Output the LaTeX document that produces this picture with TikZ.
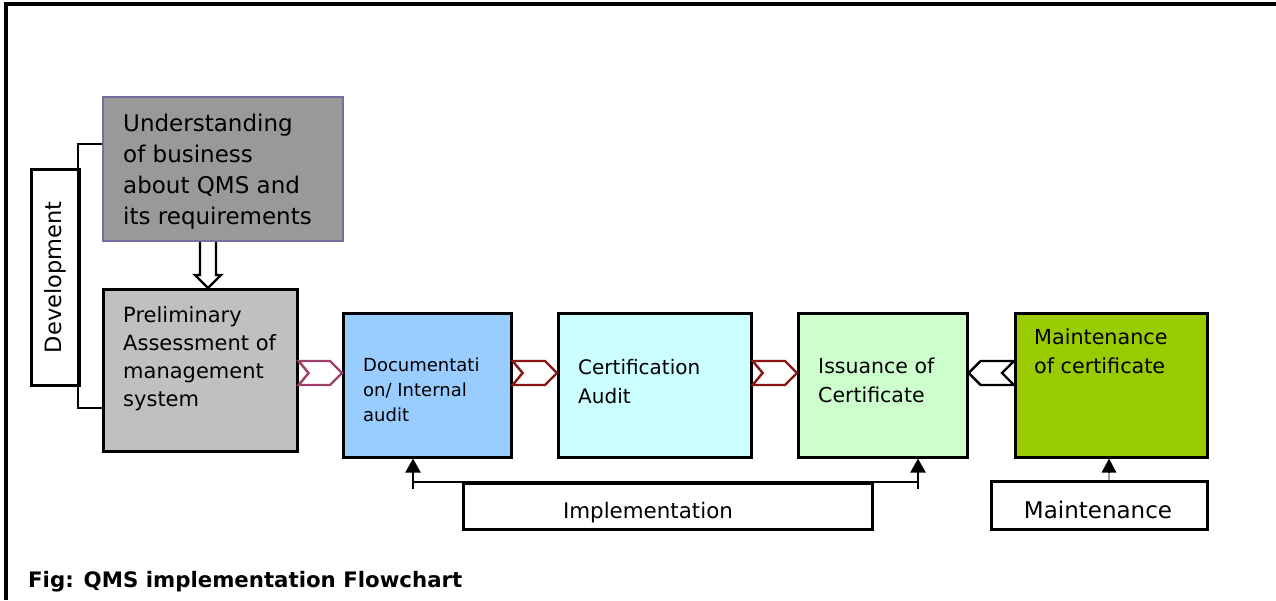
\documentclass[tikz,border=0pt]{standalone}
\usepackage{fontspec}
\setmainfont{DejaVu Sans}
\usetikzlibrary{arrows.meta,calc}
\definecolor{undfill}{HTML}{999999}
\definecolor{undline}{HTML}{7070A0}
\definecolor{prefill}{HTML}{C0C0C0}
\definecolor{docfill}{HTML}{99CCFF}
\definecolor{certfill}{HTML}{CCFFFF}
\definecolor{issfill}{HTML}{CCFFCC}
\definecolor{mntfill}{HTML}{99CC00}
\definecolor{chevpurple}{HTML}{A0406A}
\definecolor{chevred}{HTML}{8B1414}
\definecolor{lightline}{HTML}{A0A0A0}
\newcommand{\chevR}[3]{%
  \draw[chevline,draw=#3] ($(#1.east|-cy)+(0,-12)$) -- ($(#2.west|-cy)+(-12,-12)$) -- (#2.west|-cy)
    -- ($(#2.west|-cy)+(-12,12)$) -- ($(#1.east|-cy)+(0,12)$) -- ($(#1.east|-cy)+(10,0)$) -- cycle;}
\newcommand{\chevL}[3]{%
  \draw[chevline,draw=#3] ($(#1.west|-cy)+(0,-12)$) -- ($(#2.east|-cy)+(12,-12)$) -- (#2.east|-cy)
    -- ($(#2.east|-cy)+(12,12)$) -- ($(#1.west|-cy)+(0,12)$) -- ($(#1.west|-cy)+(-12,0)$) -- cycle;}
\begin{document}
\begin{tikzpicture}[x=1pt,y=-1pt,
  blk/.style={draw=black, line width=2.6pt, inner sep=0pt, anchor=north west},
  txt/.style={anchor=north west, inner sep=0pt, align=left},
  chevline/.style={line width=2.4pt, fill=white, line join=miter},
  uparr/.style={line width=2.4pt, -{Triangle[width=15pt,length=14pt]}},
]
\useasboundingbox (0,0) rectangle (1276,600);
\fill[white] (0,0) rectangle (1276,600);
% frame
\draw[line width=3.2pt] (6,600) -- (6,4) -- (1276,4);

% boxes
\node[blk, draw=undline, line width=2pt, fill=undfill, minimum width=240pt, minimum height=144pt] (und) at (102,96) {};
\node[blk, fill=prefill, minimum width=194pt, minimum height=162pt] (pre) at (102,288) {};
\node[blk, fill=docfill, minimum width=168pt, minimum height=144pt] (doc) at (342,312) {};
\node[blk, fill=certfill, minimum width=193pt, minimum height=144pt] (cert) at (557,312) {};
\node[blk, fill=issfill, minimum width=169pt, minimum height=144pt] (iss) at (797,312) {};
\node[blk, fill=mntfill, minimum width=192pt, minimum height=144pt] (maint) at (1014,312) {};
\node[blk, fill=white, minimum width=48pt, minimum height=216pt] (devbox) at (30,168) {};
\node[blk, fill=white, minimum width=216pt, minimum height=48pt] (mnt) at (990,480) {};

% texts
\node[txt, font=\fontsize{23}{31}\selectfont] (undt) at (123,114) {Understanding\\of business\\about QMS and\\its requirements};
\node[txt, font=\fontsize{21}{28}\selectfont] (pret) at (123,306) {Preliminary\\Assessment of\\management\\system};
\node[txt, font=\fontsize{18}{25}\selectfont] (doct) at (363,358) {Documentati\\on/ Internal\\audit};
\node[txt, font=\fontsize{20}{29}\selectfont] (certt) at (578,359) {Certification\\Audit};
\node[txt, font=\fontsize{20.5}{29}\selectfont] (isst) at (818,358) {Issuance of\\Certificate};
\node[txt, font=\fontsize{20.7}{29}\selectfont] (maintt) at (1034,329) {Maintenance\\of certificate};
\node[rotate=90, inner sep=0pt, font=\fontsize{22.5}{22.5}\selectfont] (dev) at (devbox.center) {Development};

% development bracket
\coordinate (b1) at (78,144);
\coordinate (b2) at (78,408);
\draw[line width=2.6pt] (und.west|-b1) -- (b1) -- (b2) -- (pre.west|-b2);

% hollow down arrow
\coordinate (ua) at (208,0);
\draw[line width=2.2pt, fill=white, line join=miter]
  ($(und.south-|ua)+(-8,0)$) -- ($(pre.north-|ua)+(-8,-13)$) -- ($(pre.north-|ua)+(-13,-13)$)
  -- (pre.north-|ua) -- ($(pre.north-|ua)+(13,-13)$) -- ($(pre.north-|ua)+(8,-13)$) -- ($(und.south-|ua)+(8,0)$);

% chevrons
\coordinate (cy) at (0,373);
\chevR{pre}{doc}{chevpurple}
\chevR{doc}{cert}{chevred}
\chevR{cert}{iss}{chevred}
\chevL{maint}{iss}{black}

% implementation
\node[blk, fill=white, minimum width=409pt, minimum height=46pt] (impl) at (462,482) {};
\node[anchor=base, inner sep=0pt, font=\fontsize{21.4}{21.4}\selectfont] (implt) at (648,518) {Implementation};
\coordinate (il) at (413,482);
\coordinate (ir) at (918,482);
\draw[line width=2.6pt] (il) -- (ir);
\draw[uparr] ($(il)+(0,7)$) -- (doc.south-|il);
\draw[uparr] ($(ir)+(0,7)$) -- (iss.south-|ir);

% maintenance
\node[anchor=base, inner sep=0pt, font=\fontsize{23}{23}\selectfont] (mntt) at (1098,518) {Maintenance};
\coordinate (ma) at (1109,0);
\draw[line width=2pt, draw=lightline] (mnt.north-|ma) -- ($(maint.south-|ma)+(0,12)$);
\draw[line width=0pt, -{Triangle[width=15pt,length=14pt]}] ($(maint.south-|ma)+(0,13)$) -- (maint.south-|ma);

% caption
\node[anchor=base west, inner sep=0pt, font=\bfseries\fontsize{21.3}{21.3}\selectfont] (cap) at (28,587) {Fig: QMS implementation Flowchart};
\end{tikzpicture}
\end{document}
